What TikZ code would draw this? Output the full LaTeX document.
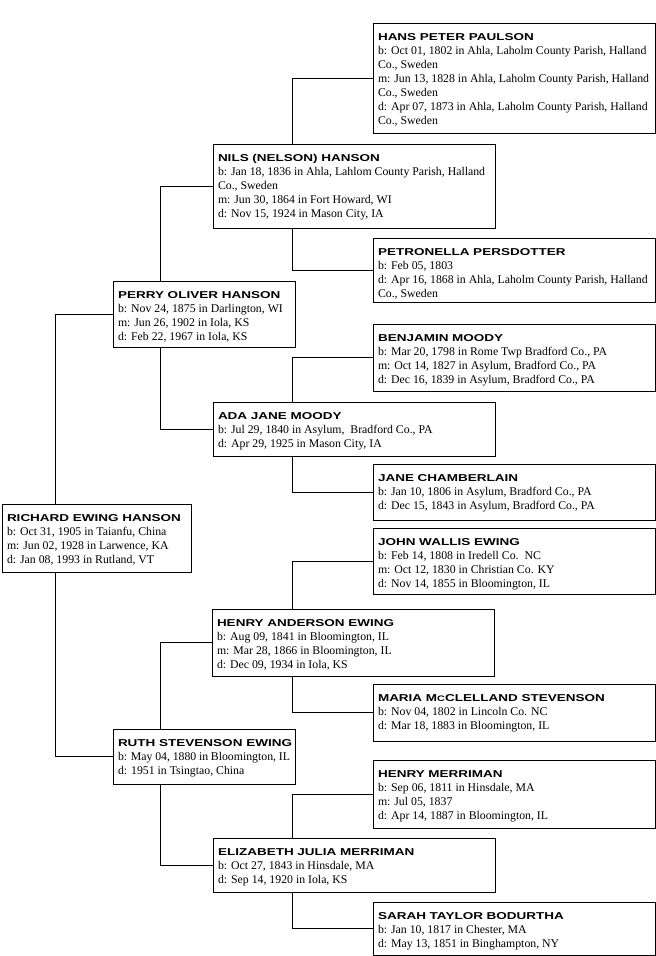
\documentclass[tikz,border=0pt]{standalone}
\usepackage{fontspec}
\setmainfont{Liberation Serif}
\newfontfamily\namefont{Liberation Sans Bold}[FakeStretch=1.35]
\usetikzlibrary{backgrounds}
\newcommand\pcard[4]{\parbox[t][#2pt][t]{#1pt}{\raggedright\fontsize{11.8}{14}\selectfont\rule{0pt}{17pt}\mbox{\namefont\fontsize{10}{14}\selectfont #3}\\ #4}}
\tikzset{
  person/.style={draw, fill=white, line width=1pt, inner xsep=5pt, inner ysep=0pt, outer sep=0pt, anchor=north west},
  link/.style={draw, line width=1pt}
}
\begin{document}
\begin{tikzpicture}[x=1pt,y=-1pt]
\useasboundingbox (0,0) rectangle (656,956);
\node[person] (hans) at (373,23) {\pcard{272}{110}{HANS PETER PAULSON}{b: Oct 01, 1802 in Ahla, Laholm County Parish, Halland\\ Co., Sweden\\ m: Jun 13, 1828 in Ahla, Laholm County Parish, Halland\\ Co., Sweden\\ d: Apr 07, 1873 in Ahla, Laholm County Parish, Halland\\ Co., Sweden}};
\node[person] (nils) at (213,144) {\pcard{272}{84}{NILS (NELSON) HANSON}{b: Jan 18, 1836 in Ahla, Lahlom County Parish, Halland\\ Co., Sweden\\ m: Jun 30, 1864 in Fort Howard, WI\\ d: Nov 15, 1924 in Mason City, IA}};
\node[person] (petro) at (373,238) {\pcard{272}{64}{PETRONELLA PERSDOTTER}{b: Feb 05, 1803\\ d: Apr 16, 1868 in Ahla, Laholm County Parish, Halland\\ Co., Sweden}};
\node[person] (perry) at (113,281) {\pcard{172}{66}{PERRY OLIVER HANSON}{b: Nov 24, 1875 in Darlington, WI\\ m: Jun 26, 1902 in Iola, KS\\ d: Feb 22, 1967 in Iola, KS}};
\node[person] (benj) at (373,324) {\pcard{272}{67}{BENJAMIN MOODY}{b: Mar 20, 1798 in Rome Twp Bradford Co., PA\\ m: Oct 14, 1827 in Asylum, Bradford Co., PA\\ d: Dec 16, 1839 in Asylum, Bradford Co., PA}};
\node[person] (ada) at (213,402) {\pcard{272}{54}{ADA JANE MOODY}{b: Jul 29, 1840 in Asylum,~~Bradford Co., PA\\ d: Apr 29, 1925 in Mason City, IA}};
\node[person] (jane) at (373,464) {\pcard{272}{56}{JANE CHAMBERLAIN}{b: Jan 10, 1806 in Asylum, Bradford Co., PA\\ d: Dec 15, 1843 in Asylum, Bradford Co., PA}};
\node[person] (rich) at (2,504) {\pcard{179}{68}{RICHARD EWING HANSON}{b: Oct 31, 1905 in Taianfu, China\\ m: Jun 02, 1928 in Larwence, KA\\ d: Jan 08, 1993 in Rutland, VT}};
\node[person] (john) at (373,528) {\pcard{272}{66}{JOHN WALLIS EWING}{b: Feb 14, 1808 in Iredell Co.~~NC\\ m: Oct 12, 1830 in Christian Co. KY\\ d: Nov 14, 1855 in Bloomington, IL}};
\node[person] (henrya) at (212,609) {\pcard{272}{67}{HENRY ANDERSON EWING}{b: Aug 09, 1841 in Bloomington, IL\\ m: Mar 28, 1866 in Bloomington, IL\\ d: Dec 09, 1934 in Iola, KS}};
\node[person] (maria) at (373,684) {\pcard{272}{57}{MARIA M{\fontsize{8}{14}\selectfont C}CLELLAND STEVENSON}{b: Nov 04, 1802 in Lincoln Co. NC\\ d: Mar 18, 1883 in Bloomington, IL}};
\node[person] (ruth) at (113,729) {\pcard{172}{55}{RUTH STEVENSON EWING}{b: May 04, 1880 in Bloomington, IL\\ d: 1951 in Tsingtao, China}};
\node[person] (henrym) at (373,760) {\pcard{272}{68}{HENRY MERRIMAN}{b: Sep 06, 1811 in Hinsdale, MA\\ m: Jul 05, 1837\\ d: Apr 14, 1887 in Bloomington, IL}};
\node[person] (eliz) at (213,838) {\pcard{272}{54}{ELIZABETH JULIA MERRIMAN}{b: Oct 27, 1843 in Hinsdale, MA\\ d: Sep 14, 1920 in Iola, KS}};
\node[person] (sarah) at (373,902) {\pcard{272}{53}{SARAH TAYLOR BODURTHA}{b: Jan 10, 1817 in Chester, MA\\ d: May 13, 1851 in Binghampton, NY}};
\coordinate (cR) at (55,0);
\coordinate (cP) at (160,0);
\coordinate (cG) at (292,0);
\begin{scope}[on background layer]
\fill[white] (0,0) rectangle (656,956);
\draw[link] (perry.west) -| (cR |- ruth.west) -- (ruth.west);
\draw[link] (nils.west) -| (cP |- ada.west) -- (ada.west);
\draw[link] (henrya.west) -| (cP |- eliz.west) -- (eliz.west);
\draw[link] (hans.west) -| (cG |- petro.west) -- (petro.west);
\draw[link] (benj.west) -| (cG |- jane.west) -- (jane.west);
\draw[link] (john.west) -| (cG |- maria.west) -- (maria.west);
\draw[link] (henrym.west) -| (cG |- sarah.west) -- (sarah.west);
\end{scope}
\end{tikzpicture}
\end{document}
